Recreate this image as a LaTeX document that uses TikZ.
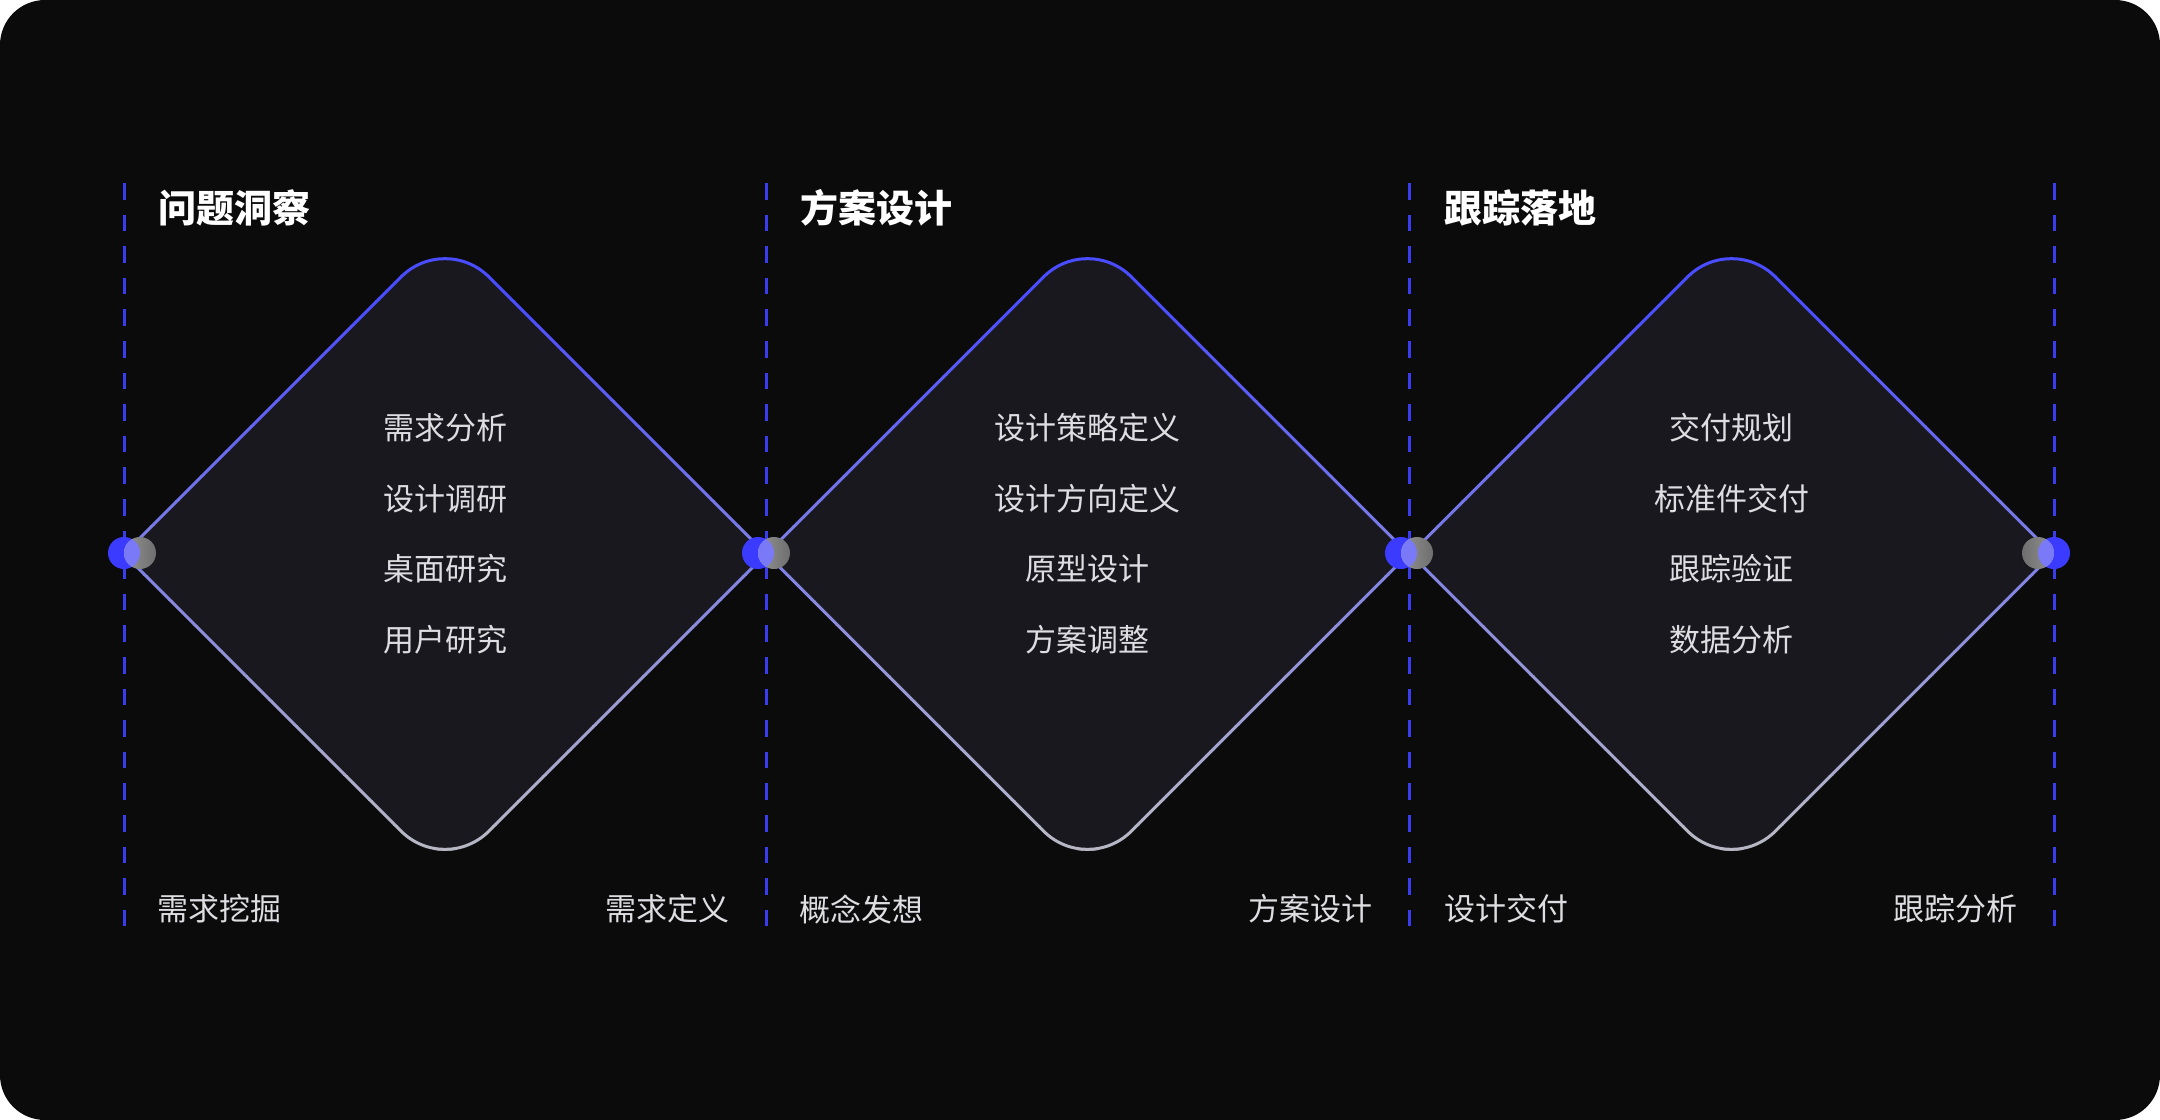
\documentclass[tikz,border=0pt]{standalone}
\usepackage{fontspec}
\setmainfont{Noto Sans CJK SC}
\definecolor{bgDark}{HTML}{0B0B0C}
\definecolor{rhombFill}{HTML}{18181E}
\definecolor{lineBlue}{HTML}{4A4CFF}
\definecolor{lineGray}{HTML}{B8B8C4}
\definecolor{dashBlue}{HTML}{3A3CF0}
\definecolor{dotBlue}{HTML}{3B3BFF}
\definecolor{lensBlue}{HTML}{7A7AF8}
\definecolor{veilLight}{HTML}{949494}
\definecolor{veilDark}{HTML}{6E6E6E}
\definecolor{itemGray}{HTML}{DEDEE2}
\newcommand{\rhombpath}[1]{(#1-321,554) -- (#1-43.84,276.84) .. controls (#1-19.6,252.6) and (#1+19.6,252.6) .. (#1+43.84,276.84) -- (#1+321,554) -- (#1+43.84,831.16) .. controls (#1+19.6,855.4) and (#1-19.6,855.4) .. (#1-43.84,831.16) -- cycle}
\begin{document}
\begin{tikzpicture}[x=0.5pt,y=-0.5pt,
  guide/.style={dashBlue,line width=1.5pt,dash pattern=on 8.3pt off 7.5pt},
  stage/.style={anchor=west,inner sep=0pt,text=white,font=\fontsize{19pt}{19pt}\selectfont\bfseries},
  item/.style={inner sep=0pt,text=itemGray,font=\fontsize{15.5pt}{15.5pt}\selectfont},
  tag/.style={inner sep=0pt,text=itemGray,font=\fontsize{15.5pt}{15.5pt}\selectfont},
  dot/.style={circle,fill=dotBlue,minimum size=16pt,inner sep=0pt},
  veil/.style={circle,minimum size=16pt,inner sep=0pt,left color=veilLight,right color=veilDark},
  veilflip/.style={circle,minimum size=16pt,inner sep=0pt,left color=veilDark,right color=veilLight}]
\fill[white] (0,0) rectangle (2160,1120);
\fill[bgDark,rounded corners=22.5pt] (0,0) rectangle (2160,1120);

\foreach \gx in {124,766,1409,2054}
  \draw[guide] (\gx,183) -- (\gx,934);

\foreach \cx in {445,1087.5,1731.5}{
  \fill[rhombFill] \rhombpath{\cx};
  \foreach \k in {0,...,26}{
    \pgfmathsetmacro\ya{225+\k*25}
    \pgfmathsetmacro\mix{min(100,max(0,(\ya+12.5-300)/5.49))}
    \begin{scope}
      \clip (0,\ya) rectangle (2160,\ya+25.5);
      \draw[line width=1.5pt,lineGray!\mix!lineBlue] \rhombpath{\cx};
    \end{scope}
  }
}

\node[dot] (b1) at (124,553) {};
\node[veil] (g1) at (140,553) {};
\node[dot] (b2) at (758,553) {};
\node[veil] (g2) at (774,553) {};
\node[dot] (b3) at (1401,553) {};
\node[veil] (g3) at (1417,553) {};
\node[dot] (b4) at (2054,553) {};
\node[veilflip] (g4) at (2038,553) {};
\foreach \i in {1,...,4}{
  \begin{scope}
    \clip (b\i.center) circle (8pt);
    \fill[lensBlue] (g\i.center) circle (8pt);
  \end{scope}
}

\node[stage] (s1) at (158,208) {问题洞察};
\node[stage] (s2) at (800,208) {方案设计};
\node[stage] (s3) at (1444,208) {跟踪落地};

\foreach \txt [count=\j] in {需求分析,设计调研,桌面研究,用户研究}
  \node[item] (a\j) at (445,{428+(\j-1)*70.5}) {\txt};
\foreach \txt [count=\j] in {设计策略定义,设计方向定义,原型设计,方案调整}
  \node[item] (m\j) at (1087.5,{428+(\j-1)*70.5}) {\txt};
\foreach \txt [count=\j] in {交付规划,标准件交付,跟踪验证,数据分析}
  \node[item] (z\j) at (1731.5,{428+(\j-1)*70.5}) {\txt};

\node[tag,anchor=west] (p1) at (157,909) {需求挖掘};
\node[tag,anchor=east] (p2) at (730,909) {需求定义};
\node[tag,anchor=west] (p3) at (799,909) {概念发想};
\node[tag,anchor=east] (p4) at (1373,909) {方案设计};
\node[tag,anchor=west] (p5) at (1444,909) {设计交付};
\node[tag,anchor=east] (p6) at (2018,909) {跟踪分析};
\end{tikzpicture}
\end{document}
